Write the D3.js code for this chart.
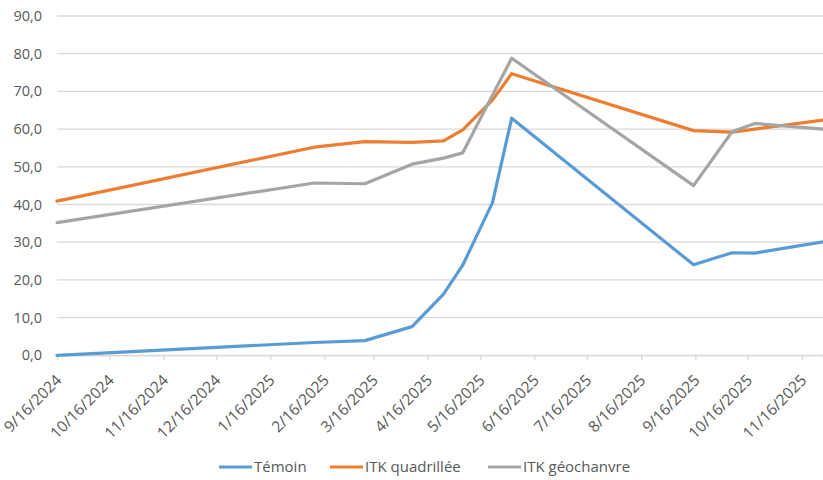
<!DOCTYPE html>
<html><head><meta charset="utf-8">
<script src="https://cdn.jsdelivr.net/npm/d3@7"></script>
<style>body{margin:0;background:#fff}svg{display:block}</style>
</head><body>
<svg id="c" width="823" height="480"></svg>
<script>
const dates = ["2024-09-16","2025-02-10","2025-03-11","2025-04-07","2025-04-25","2025-05-06","2025-05-23","2025-06-03","2025-09-15","2025-10-07","2025-10-20","2025-11-28"];
const temoin = [0.0, 3.4, 3.9, 7.6, 16.2, 23.9, 40.5, 62.9, 24.0, 27.2, 27.1, 30.1];
const quadrillee = [40.9, 55.2, 56.7, 56.5, 56.9, 59.8, 67.7, 74.7, 59.6, 59.2, 60.0, 62.4];
const geochanvre = [35.2, 45.7, 45.5, 50.7, 52.3, 53.7, 69.0, 78.8, 45.0, 59.3, 61.5, 60.0];
const seriesNames = ["Témoin", "ITK quadrillée", "ITK géochanvre"];
const colors = ["#5B9BD5", "#ED7D31", "#A5A5A5"];
const yTicks = [0,10,20,30,40,50,60,70,80,90];
const xTickLabels = ["9/16/2024","10/16/2024","11/16/2024","12/16/2024","1/16/2025","2/16/2025","3/16/2025","4/16/2025","5/16/2025","6/16/2025","7/16/2025","8/16/2025","9/16/2025","10/16/2025","11/16/2025"];

const parse = d3.timeParse("%Y-%m-%d");
const parseTick = d3.timeParse("%m/%d/%Y");
const svg = d3.select("#c");
const font = "'Open Sans', sans-serif";
const pLeft = 57, pRight = 823, pTop = 16, pBottom = 355.3;

const x = d3.scaleTime().domain([parse("2024-09-16"), parse("2025-11-28")]).range([pLeft, pRight]);
const y = d3.scaleLinear().domain([0, 90]).range([pBottom, pTop]);

// gridlines
svg.append("g").selectAll("line").data(yTicks).join("line")
  .attr("x1", pLeft).attr("x2", pRight)
  .attr("y1", d => y(d)).attr("y2", d => y(d))
  .attr("stroke", "#D9D9D9").attr("stroke-width", 1.3);

// y labels
svg.append("g").selectAll("text").data(yTicks).join("text")
  .attr("x", 42).attr("y", d => y(d)).attr("dy", "0.35em")
  .attr("text-anchor", "end").attr("fill", "#595959")
  .style("font-family", font).style("font-size", "14.5px")
  .text(d => d3.format(".1f")(d).replace(".", ","));

// x axis
const tickDates = xTickLabels.map(parseTick);
const xAxis = d3.axisBottom(x).tickValues(tickDates).tickSize(5).tickFormat((d,i) => xTickLabels[i]);
const gx = svg.append("g").attr("transform", `translate(0,${pBottom})`).call(xAxis);
gx.select(".domain").attr("stroke", "#D9D9D9").attr("stroke-width", 1.3);
gx.selectAll(".tick line").attr("stroke", "#D9D9D9").attr("stroke-width", 1.3);
gx.selectAll(".tick text")
  .attr("fill", "#595959").style("font-family", font).style("font-size", "15.5px")
  .attr("text-anchor", "end").attr("y", 0).attr("dy", 0)
  .attr("transform", "translate(5,26) rotate(-45)");

// lines
const allSeries = [temoin, quadrillee, geochanvre];
const line = d3.line().x((d,i) => x(parse(dates[i]))).y(d => y(d));
svg.append("g").selectAll("path").data(allSeries).join("path")
  .attr("d", d => line(d))
  .attr("fill", "none")
  .attr("stroke", (d,i) => colors[i])
  .attr("stroke-width", 3.2)
  .attr("stroke-linejoin", "round")
  .attr("stroke-linecap", "round");

// legend
const legendX = [219, 330, 488];
const lg = svg.append("g").selectAll("g").data(seriesNames).join("g")
  .attr("transform", (d,i) => `translate(${legendX[i]},467)`);
lg.append("line").attr("x1", 0).attr("x2", 33).attr("y1", 0).attr("y2", 0)
  .attr("stroke", (d,i) => colors[i]).attr("stroke-width", 3.2);
lg.append("text").attr("x", 35).attr("dy", "0.35em").attr("fill", "#595959")
  .style("font-family", font).style("font-size", "15px").text(d => d);
</script>
</body></html>
